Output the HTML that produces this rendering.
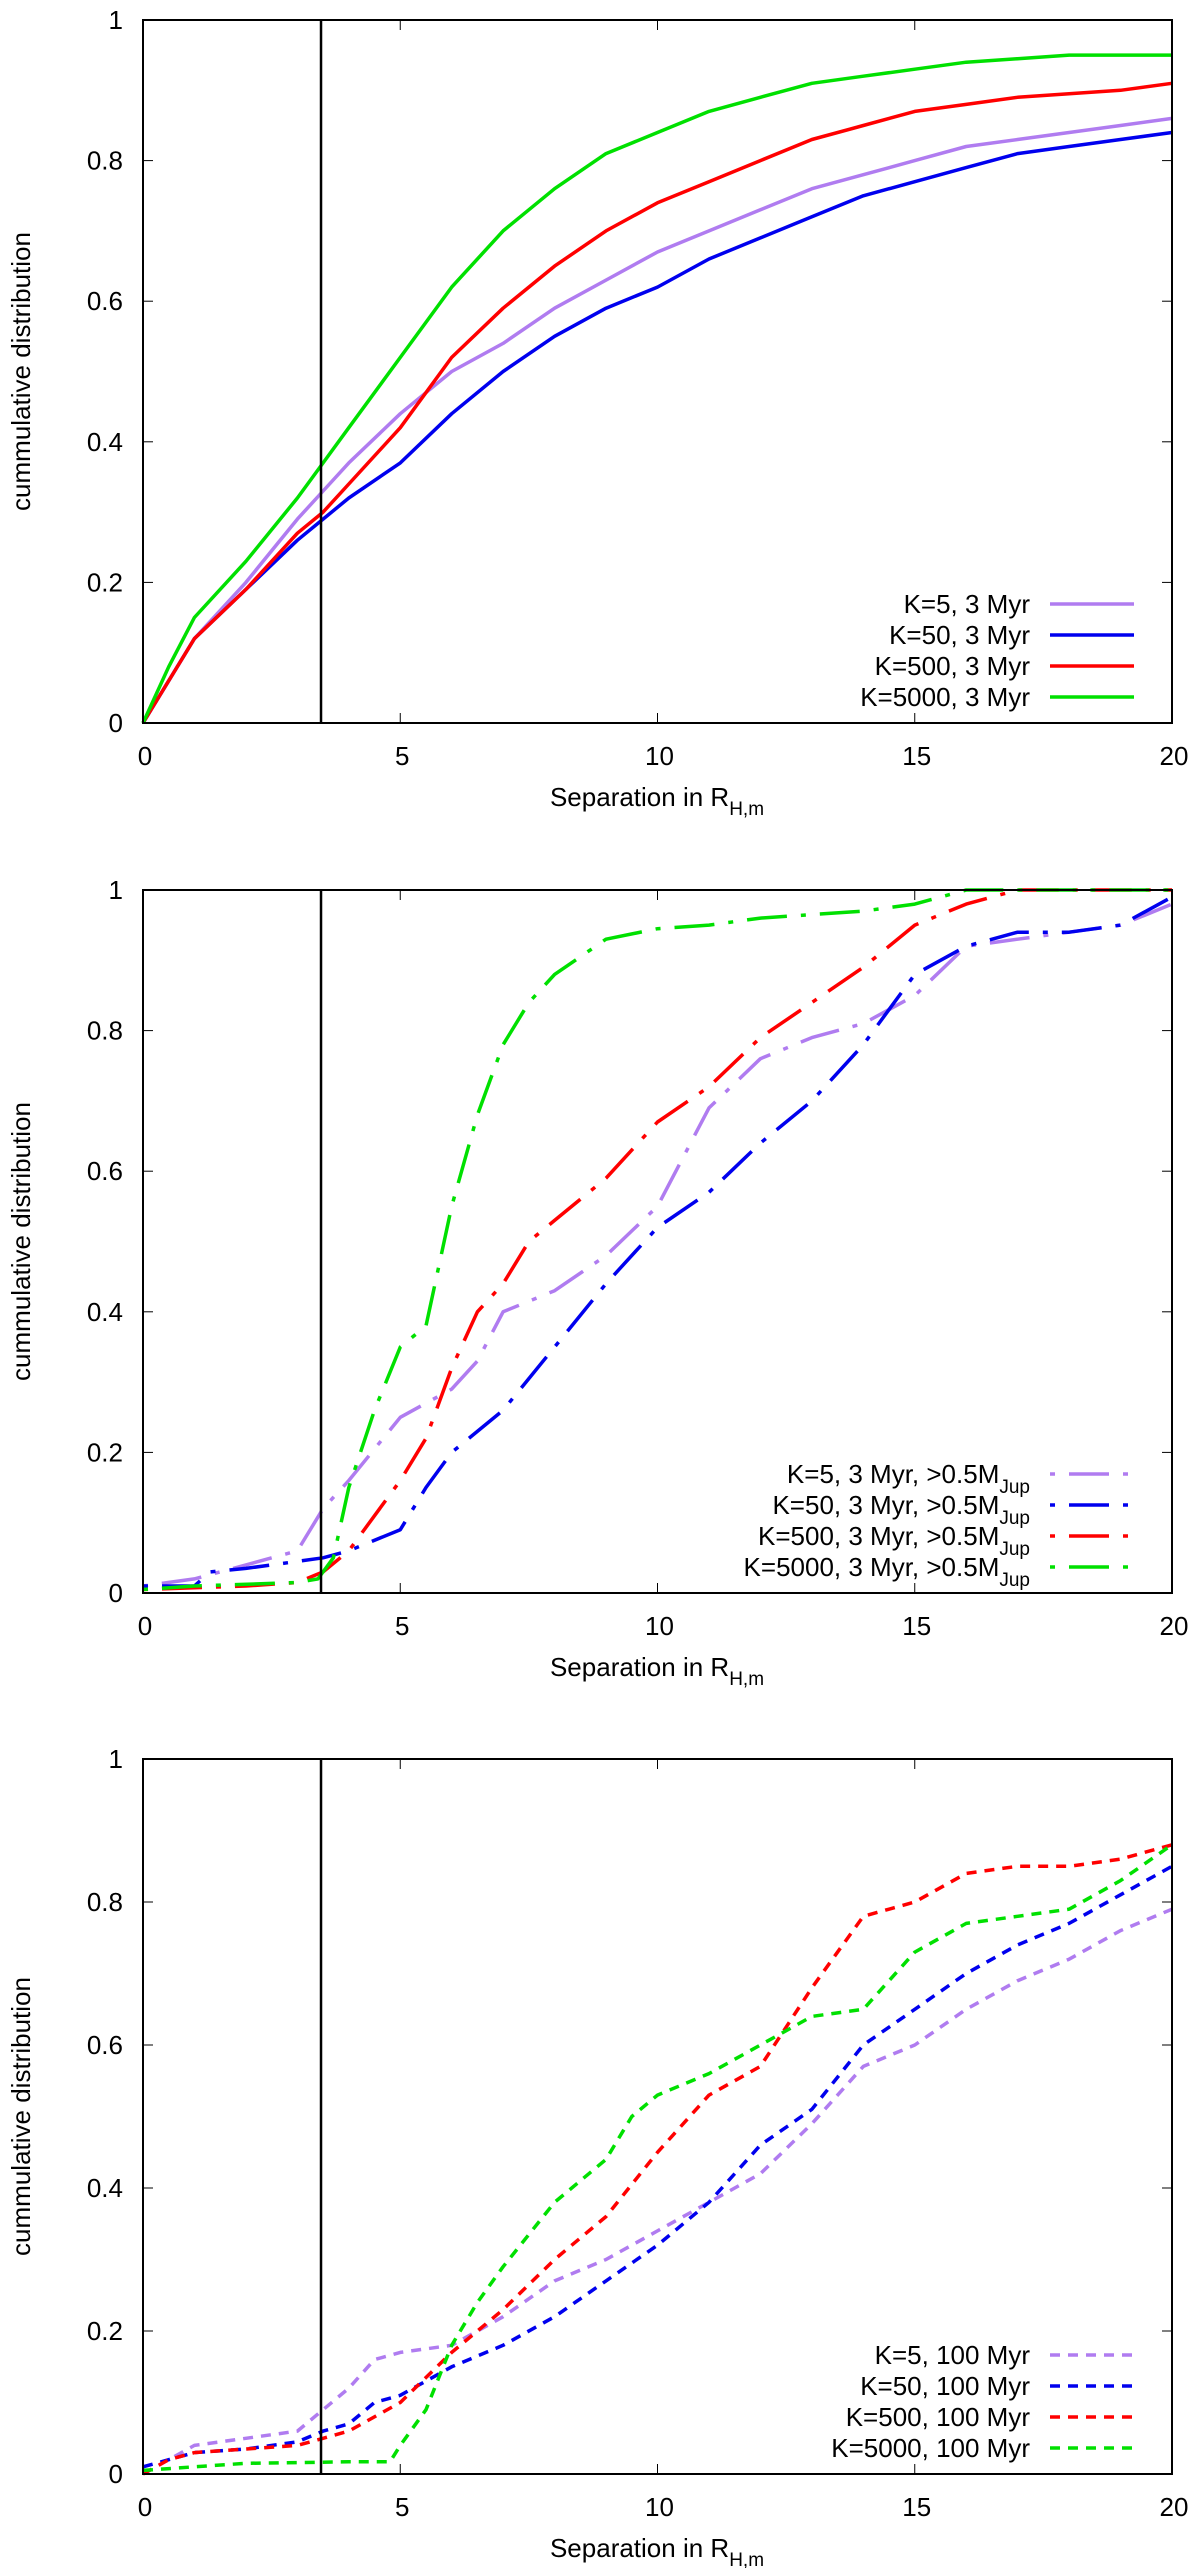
<!DOCTYPE html>
<html><head><meta charset="utf-8"><style>
html,body{margin:0;padding:0;background:#fff}
svg{display:block;font-family:"Liberation Sans",sans-serif}
</style></head><body>
<svg id="fig" width="1200" height="2568" viewBox="0 0 1200 2568" xmlns="http://www.w3.org/2000/svg"></svg>
<script>
const xTicks=[0,5,10,15,20];
const yTicks=[0,0.2,0.4,0.6,0.8,1];
const yTickLabels=["0","0.2","0.4","0.6","0.8","1"];
const vlineX=3.46;
// Panel 1 (solid)
const p1Labels=["K=5, 3 Myr","K=50, 3 Myr","K=500, 3 Myr","K=5000, 3 Myr"];
const p1K5x=[0,1,2,3,3.5,4,5,6,7,8,9,10,11,12,13,14,15,16,17,18,19,20];
const p1K5y=[0,0.12,0.2,0.29,0.33,0.37,0.44,0.5,0.54,0.59,0.63,0.67,0.7,0.73,0.76,0.78,0.8,0.82,0.83,0.84,0.85,0.86];
const p1K50x=[0,1,2,3,3.5,4,5,6,7,8,9,10,11,12,13,14,15,16,17,18,19,20];
const p1K50y=[0,0.12,0.19,0.26,0.29,0.32,0.37,0.44,0.5,0.55,0.59,0.62,0.66,0.69,0.72,0.75,0.77,0.79,0.81,0.82,0.83,0.84];
const p1K500x=[0,1,2,3,3.5,4,5,6,7,8,9,10,11,12,13,14,15,16,17,18,19,20];
const p1K500y=[0,0.12,0.19,0.27,0.3,0.34,0.42,0.52,0.59,0.65,0.7,0.74,0.77,0.8,0.83,0.85,0.87,0.88,0.89,0.895,0.9,0.91];
const p1K5000x=[0,0.5,1,2,3,3.5,4,5,6,7,8,9,10,11,12,13,14,15,16,17,18,20];
const p1K5000y=[0,0.08,0.15,0.23,0.32,0.37,0.42,0.52,0.62,0.7,0.76,0.81,0.84,0.87,0.89,0.91,0.92,0.93,0.94,0.945,0.95,0.95];
// Panel 2 (dash-dot)
const p2Labels=["K=5, 3 Myr, >0.5M","K=50, 3 Myr, >0.5M","K=500, 3 Myr, >0.5M","K=5000, 3 Myr, >0.5M"];
const p2K5x=[0,1,2,3,3.5,4,5,6,6.5,7,8,9,10,11,12,13,14,15,16,17,18,19,20];
const p2K5y=[0.01,0.02,0.04,0.06,0.12,0.16,0.25,0.29,0.33,0.4,0.43,0.48,0.55,0.69,0.76,0.79,0.81,0.85,0.92,0.93,0.94,0.95,0.98];
const p2K50x=[0,1,1.3,2,3,3.5,4,5,5.5,6,7,8,9,10,11,12,13,14,15,16,17,18,19,20];
const p2K50y=[0.01,0.01,0.03,0.035,0.045,0.05,0.06,0.09,0.15,0.2,0.26,0.35,0.44,0.52,0.57,0.64,0.7,0.78,0.88,0.92,0.94,0.94,0.95,0.99];
const p2K500x=[0,2,3,3.5,4,5,5.5,6,6.5,7,7.5,8,9,10,11,12,13,14,15,16,17,20];
const p2K500y=[0.005,0.01,0.015,0.03,0.06,0.16,0.22,0.32,0.4,0.44,0.5,0.53,0.59,0.67,0.72,0.79,0.84,0.89,0.95,0.98,1,1];
const p2K5000x=[0,1,3,3.4,3.7,4,4.5,5,5.5,6,6.5,7,7.5,8,9,10,11,12,14,15,16,20];
const p2K5000y=[0.005,0.01,0.015,0.02,0.05,0.15,0.26,0.35,0.38,0.55,0.68,0.78,0.84,0.88,0.93,0.945,0.95,0.96,0.97,0.98,1,1];
// Panel 3 (dashed)
const p3Labels=["K=5, 100 Myr","K=50, 100 Myr","K=500, 100 Myr","K=5000, 100 Myr"];
const p3K5x=[0,0.5,1,2,3,3.5,4,4.5,5,6,7,8,9,10,11,12,13,14,15,16,17,18,19,20];
const p3K5y=[0,0.02,0.04,0.05,0.06,0.09,0.12,0.16,0.17,0.18,0.22,0.27,0.3,0.34,0.38,0.42,0.49,0.57,0.6,0.65,0.69,0.72,0.76,0.79];
const p3K50x=[0,1,2,3,3.5,4,4.5,5,6,7,8,9,10,11,12,13,14,15,16,17,18,19,20];
const p3K50y=[0.01,0.03,0.035,0.045,0.06,0.07,0.1,0.11,0.15,0.18,0.22,0.27,0.32,0.38,0.46,0.51,0.6,0.65,0.7,0.74,0.77,0.81,0.85];
const p3K500x=[0,0.5,1,2,3,3.5,4,5,6,7,8,9,10,11,12,13,14,15,16,17,18,19,20];
const p3K500y=[0,0.02,0.03,0.035,0.04,0.05,0.06,0.1,0.17,0.23,0.3,0.36,0.45,0.53,0.57,0.68,0.78,0.8,0.84,0.85,0.85,0.86,0.88];
const p3K5000x=[0,1,2,3,4,4.8,5,5.5,6,6.5,7,8,9,9.5,10,11,12,13,14,15,16,17,18,19,20];
const p3K5000y=[0.005,0.01,0.015,0.016,0.017,0.017,0.04,0.09,0.18,0.24,0.29,0.38,0.44,0.5,0.53,0.56,0.6,0.64,0.65,0.73,0.77,0.78,0.79,0.83,0.88];

const colors=["#b07cf0","#0000ee","#ff0000","#00e000"];
const NS="http://www.w3.org/2000/svg";
const svg=document.getElementById('fig');
function mk(tag,attrs,parent){const e=document.createElementNS(NS,tag);for(const k in attrs)e.setAttribute(k,attrs[k]);(parent||svg).appendChild(e);return e;}

const L=143,R=1172;
function panel(idx,top,bottom,series,labels,dash,sub){
  const g=mk('g',{});
  
  
  const sx=v=>L+(R-L)*v/20, sy=v=>bottom-(bottom-top)*v;
  // ticks
  yTicks.forEach((t,i)=>{
    const y=sy(t);
    mk('line',{x1:L,x2:L+10,y1:y,y2:y,stroke:'#000','stroke-width':1},g);
    mk('line',{x1:R-10,x2:R,y1:y,y2:y,stroke:'#000','stroke-width':1},g);
    const tx=mk('text',{x:123,y:y+9,'text-anchor':'end','font-size':26},g);
    tx.textContent=yTickLabels[i];
    
    
  });
  xTicks.forEach(t=>{
    const x=sx(t);
    mk('line',{x1:x,x2:x,y1:bottom,y2:bottom-10,stroke:'#000','stroke-width':1},g);
    mk('line',{x1:x,x2:x,y1:top,y2:top+10,stroke:'#000','stroke-width':1},g);
    const tx=mk('text',{x:x+2,y:bottom+42,'text-anchor':'middle','font-size':26},g);
    tx.textContent=String(t);
    
    
  });
  // series
  series.forEach((s,i)=>{
    const pts=s[0].map((xv,j)=>sx(xv).toFixed(1)+','+sy(s[1][j]).toFixed(1)).join(' ');
    const pl=mk('polyline',{points:pts,fill:'none',stroke:colors[i],'stroke-width':3.5,'stroke-dasharray':dash,'stroke-linejoin':'round'},g);
    
    
  });
  // vertical line
  const vl=mk('line',{x1:sx(vlineX),x2:sx(vlineX),y1:top,y2:bottom,stroke:'#000','stroke-width':2.5},g);
  
  
  // frame
  const fr=mk('rect',{x:L,y:top,width:R-L,height:bottom-top,fill:'none',stroke:'#000','stroke-width':2},g);
  
  
  // legend
  const offs=[119,88,57,26];
  labels.forEach((lab,i)=>{
    const y=bottom-offs[i];
    const t=mk('text',{x:1030,y:y+9,'text-anchor':'end','font-size':26},g);
    t.textContent=lab;
    if(sub){const ts=mk('tspan',{'font-size':19,dy:10},t);ts.textContent='Jup';}
    
    
    const ll=mk('line',{x1:1050,x2:1134,y1:y,y2:y,stroke:colors[i],'stroke-width':3.5,'stroke-dasharray':dash},g);
    
    
  });
  // axis titles
  const xt=mk('text',{x:657,y:bottom+83,'text-anchor':'middle','font-size':26},g);
  xt.textContent='Separation in R';
  const xs=mk('tspan',{'font-size':19,dy:9},xt);xs.textContent='H,m';
  
  
  const cy=(top+bottom)/2;
  const yt=mk('text',{x:30,y:cy,'text-anchor':'middle','font-size':26,transform:'rotate(-90 30 '+cy+')'},g);
  yt.textContent='cummulative distribution';
  
  
}
panel(0,20,723,[[p1K5x,p1K5y],[p1K50x,p1K50y],[p1K500x,p1K500y],[p1K5000x,p1K5000y]],p1Labels,'none',false);
panel(1,890,1593,[[p2K5x,p2K5y],[p2K50x,p2K50y],[p2K500x,p2K500y],[p2K5000x,p2K5000y]],p2Labels,'5 14 40 14',true);
panel(2,1759,2474,[[p3K5x,p3K5y],[p3K50x,p3K50y],[p3K500x,p3K500y],[p3K5000x,p3K5000y]],p3Labels,'10 8',false);
</script>
</body></html>
